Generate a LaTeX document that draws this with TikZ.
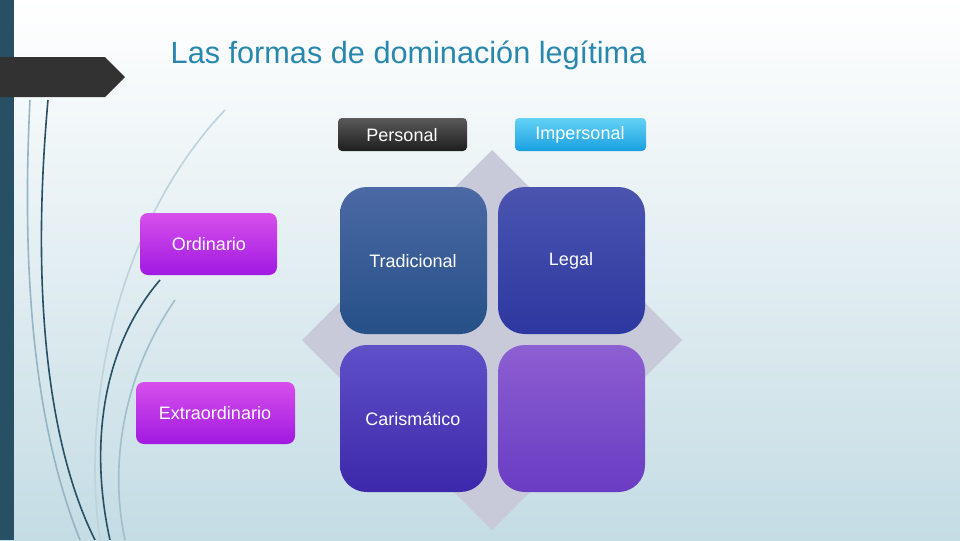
\documentclass[tikz,border=0pt]{standalone}
\usepackage{fontspec}
\setmainfont{Liberation Sans}
\definecolor{bgb}{RGB}{196,220,228}
\definecolor{bar}{RGB}{40,80,100}
\definecolor{tab}{RGB}{50,50,50}
\definecolor{cl1}{RGB}{150,180,195}
\definecolor{cl2}{RGB}{190,210,220}
\definecolor{cl3}{RGB}{160,190,205}
\definecolor{ttl}{RGB}{40,135,175}
\definecolor{dia}{RGB}{200,202,218}
\definecolor{a1}{RGB}{75,105,165}\definecolor{a2}{RGB}{38,80,135}
\definecolor{b1}{RGB}{75,85,175}\definecolor{b2}{RGB}{45,55,160}
\definecolor{c1}{RGB}{95,80,200}\definecolor{c2}{RGB}{60,40,170}
\definecolor{d1}{RGB}{140,95,210}\definecolor{d2}{RGB}{105,60,195}
\definecolor{p1}{RGB}{90,90,90}\definecolor{p2}{RGB}{30,30,30}
\definecolor{i1}{RGB}{100,210,245}\definecolor{i2}{RGB}{25,160,225}
\definecolor{m1}{RGB}{215,80,235}\definecolor{m2}{RGB}{160,25,225}
\begin{document}
\begin{tikzpicture}[x=0.75pt,y=-0.75pt,
  sq/.style={rounded corners=20pt,draw=none},
  lbl/.style={font=\fontsize{13.5}{15}\selectfont},
  curve/.style={line width=1.2pt}]
\useasboundingbox (0,0) rectangle (960,540);
\shade[top color=white,bottom color=bgb] (0,0) rectangle (960,540);
% left bar
\fill[bar] (0,0) rectangle (14,540);
\fill[tab] (0,57) -- (105,57) -- (125,77) -- (105,97) -- (0,97) -- cycle;
% decorative curves
\draw[curve,bar] (48,100) .. controls (30,300) and (50,450) .. (95,540);
\draw[curve,cl1] (30,100) .. controls (20,300) and (40,440) .. (80,540);
\draw[curve,bar] (160,280) .. controls (100,350) and (90,450) .. (110,540);
\draw[curve,cl2] (225,110) .. controls (120,220) and (80,400) .. (100,540);
\draw[curve,cl3] (175,300) .. controls (120,380) and (110,470) .. (125,540);
% title
\node[anchor=west,text=ttl,font=\fontsize{23}{26}\selectfont] (title) at (166,55) {Las formas de dominación legítima};
% diamond
\fill[dia] (492,150) -- (682,340) -- (492,530) -- (302,340) -- cycle;
% squares
\shade[sq,top color=a1,bottom color=a2] (340,187) rectangle (487,334);
\shade[sq,top color=b1,bottom color=b2] (498,187) rectangle (645,334);
\shade[sq,top color=c1,bottom color=c2] (340,345) rectangle (487,492);
\shade[sq,top color=d1,bottom color=d2] (498,345) rectangle (645,492);
\node[lbl,text=white] (trad) at (413,261) {Tradicional};
\node[lbl,text=white] (legal) at (571,261) {Legal};
\node[lbl,text=white] (caris) at (413,419) {Carismático};
% header boxes
\shade[rounded corners=3pt,top color=p1,bottom color=p2] (338,118) rectangle (467,151);
\node[lbl,text=white] (pers) at (402,135) {Personal};
\shade[rounded corners=3pt,top color=i1,bottom color=i2] (515,118) rectangle (646,151);
\node[lbl,text=white] (imp) at (580,135) {Impersonal};
% row boxes
\shade[rounded corners=6pt,top color=m1,bottom color=m2] (140,213) rectangle (277,275);
\node[lbl,text=white] (ord) at (209,244) {Ordinario};
\shade[rounded corners=6pt,top color=m1,bottom color=m2] (136,382) rectangle (295,444);
\node[lbl,text=white] (ext) at (215,413) {Extraordinario};
\end{tikzpicture}
\end{document}
